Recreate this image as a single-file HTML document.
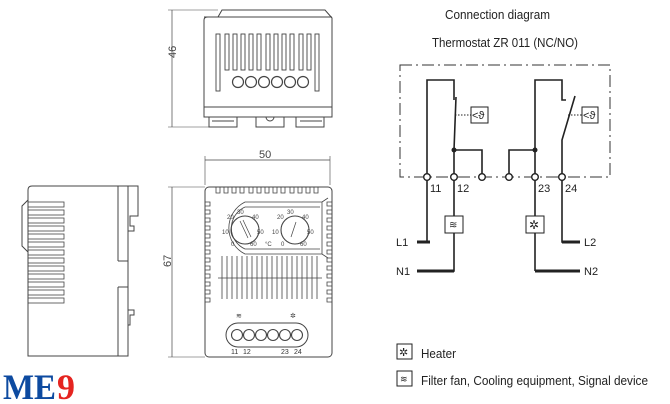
<!DOCTYPE html>
<html><head><meta charset="utf-8"><style>
html,body{margin:0;padding:0;background:#fff;}
svg{display:block;}
text{font-family:"Liberation Sans",sans-serif;}
</style></head><body>
<svg width="670" height="404" viewBox="0 0 670 404" xmlns="http://www.w3.org/2000/svg">
<g fill="none" stroke="#444" stroke-width="1">
<!-- TOP VIEW -->
<line x1="172" y1="10" x2="172" y2="127" stroke-width="0.7"/>
<line x1="168" y1="10" x2="218" y2="10" stroke-width="0.6"/>
<line x1="168" y1="127" x2="210" y2="127" stroke-width="0.6"/>
<path d="M204 20 Q204 17 208 17 L218 17 L222 10 L325 10 L332 18 L332 117 L204 117 Z"/>
<line x1="204" y1="107" x2="332" y2="107"/>
<line x1="204" y1="17" x2="332" y2="17"/>
<path d="M209 117 v10 h28 v-10 M212 121 h22 M256 117 v10 h28 v-10 M266 117 a4 4 0 0 0 8 0 M296 117 v10 h28 v-10 M300 121 h22"/>
<g stroke-width="0.9">
<rect x="216" y="34" width="4" height="57"/><rect x="225" y="34" width="4" height="36"/><rect x="233" y="34" width="4" height="36"/><rect x="241" y="34" width="4" height="36"/><rect x="249" y="34" width="4" height="36"/><rect x="257" y="34" width="4" height="36"/><rect x="266" y="34" width="4" height="36"/><rect x="274" y="34" width="4" height="36"/><rect x="282" y="34" width="4" height="36"/><rect x="290" y="34" width="4" height="36"/><rect x="299" y="34" width="4" height="36"/><rect x="307" y="34" width="4" height="36"/><rect x="315" y="34" width="4" height="57"/>
</g>
<g stroke-width="1.2"><circle cx="238" cy="82" r="5.5"/><circle cx="251" cy="82" r="5.5"/><circle cx="264" cy="82" r="5.5"/><circle cx="277" cy="82" r="5.5"/><circle cx="290" cy="82" r="5.5"/><circle cx="303" cy="82" r="5.5"/></g>

<!-- FRONT VIEW -->
<line x1="205" y1="160" x2="330" y2="160" stroke-width="0.7"/>
<line x1="205" y1="156" x2="205" y2="185" stroke-width="0.6"/>
<line x1="330" y1="156" x2="330" y2="185" stroke-width="0.6"/>
<line x1="172" y1="187" x2="172" y2="357" stroke-width="0.7"/>
<line x1="168" y1="187" x2="205" y2="187" stroke-width="0.6"/>
<line x1="168" y1="357" x2="205" y2="357" stroke-width="0.6"/>
<rect x="205" y="187" width="127" height="170" rx="4"/>
<g stroke-width="0.8">
<path d="M216 187v6h4v-6M224 187v6h4v-6M232 187v6h4v-6M240 187v6h4v-6M249 187v6h4v-6M257 187v6h4v-6M265 187v6h4v-6M273 187v6h4v-6M281 187v6h4v-6M290 187v6h4v-6M298 187v6h4v-6M306 187v6h4v-6M314 187v6h4v-6"/>
<path d="M205 202h5v4h-5M205 210h5v4h-5M205 218h5v4h-5M205 226h5v4h-5M205 234h5v4h-5M205 242h5v4h-5M205 250h5v4h-5M205 258h5v4h-5M205 266h5v4h-5M205 274h5v4h-5M205 282h5v4h-5M205 290h5v4h-5M205 298h5v4h-5"/>
<path d="M332 202h-5v4h5M332 210h-5v4h5M332 218h-5v4h5M332 226h-5v4h5M332 234h-5v4h5M332 242h-5v4h5M332 250h-5v4h5M332 258h-5v4h5M332 266h-5v4h5M332 274h-5v4h5M332 282h-5v4h5M332 290h-5v4h5M332 298h-5v4h5"/>
<path d="M322 202 L245 202 A29 29 0 0 0 245 254 L322 254 L328 258"/>
<path d="M322 202 L328 198"/>
<line x1="322" y1="202" x2="322" y2="254"/>
<path d="M245 207 A23 23 0 0 0 245 249 L320 249 M245 207 L320 207"/>
<path d="M222 256v43M227 256v43M232 256v43M237 256v43M242 256v43M247 256v43M252 256v43M257 256v43M262 256v43M267 256v43M272 256v43M277 256v43M282 256v43M287 256v43M292 256v43M297 256v43M302 256v43M307 256v43M312 256v43M317 256v43"/>
<line x1="218" y1="278" x2="322" y2="278"/>
</g>
<circle cx="245" cy="230" r="14" stroke-width="1.1"/>
<circle cx="295" cy="230" r="14" stroke-width="1.1"/>
<path d="M240 221 L248 238 M243 220 L251 237" stroke-width="0.7"/>
<path d="M296 222 L291 237" stroke-width="0.7"/>
<rect x="226" y="323" width="82" height="24" rx="12"/>
<g stroke-width="1.1"><circle cx="237" cy="335" r="5.5"/><circle cx="249" cy="335" r="5.5"/><circle cx="261" cy="335" r="5.5"/><circle cx="273" cy="335" r="5.5"/><circle cx="285" cy="335" r="5.5"/><circle cx="297" cy="335" r="5.5"/></g>

<!-- SIDE VIEW -->
<path d="M28 190 Q28 186 32 186 L128 186 L128 356 L28 356 Z"/>
<path d="M28 200 L22 206 L22 246 L28 252"/>
<line x1="118" y1="186" x2="118" y2="261"/><line x1="118" y1="261" x2="128" y2="261"/>
<line x1="118" y1="287" x2="118" y2="356"/><line x1="118" y1="287" x2="128" y2="287"/>
<path d="M128 186 h10 v30 h-8 v10 h4 v5 h-6 M128 310 h6 v5 h-4 v10 h-2"/>
<g stroke-width="0.8">
<rect x="28" y="202" width="36" height="5"/><rect x="28" y="210" width="36" height="5"/><rect x="28" y="218" width="36" height="5"/><rect x="28" y="226" width="36" height="5"/><rect x="28" y="234" width="36" height="5"/><rect x="28" y="242" width="36" height="5"/><rect x="28" y="250" width="36" height="5"/><rect x="28" y="258" width="36" height="5"/><rect x="28" y="266" width="36" height="5"/><rect x="28" y="274" width="36" height="5"/><rect x="28" y="282" width="36" height="5"/><rect x="28" y="290" width="36" height="5"/><rect x="28" y="298" width="36" height="5"/>
</g>
</g>
<g font-size="11" fill="#444">
<text x="176" y="68" transform="rotate(-90 171 63)">46</text>
<text x="259" y="158">50</text>
<text x="171" y="277" transform="rotate(-90 166 272)">67</text>
</g>
<g font-size="6" fill="#444">
<text x="237" y="214">30</text><text x="227" y="219">20</text><text x="252" y="219">40</text><text x="222" y="234">10</text><text x="257" y="234">50</text><text x="231" y="246">0</text><text x="250" y="246">60</text><text x="265" y="246">°C</text>
<text x="287" y="214">30</text><text x="277" y="219">20</text><text x="302" y="219">40</text><text x="272" y="234">10</text><text x="307" y="234">50</text><text x="281" y="246">0</text><text x="300" y="246">60</text>
</g>
<g font-size="7" fill="#333">
<text x="236" y="318">≋</text><text x="290" y="318">✲</text>
<text x="231" y="354">11</text><text x="243" y="354">12</text><text x="281" y="354">23</text><text x="294" y="354">24</text>
</g>

<!-- CONNECTION DIAGRAM -->
<text x="445" y="19" font-size="13" fill="#222" textLength="105" lengthAdjust="spacingAndGlyphs">Connection diagram</text>
<text x="432" y="47" font-size="13" fill="#222" textLength="146" lengthAdjust="spacingAndGlyphs">Thermostat ZR 011 (NC/NO)</text>
<rect x="400" y="65" width="210" height="112" fill="none" stroke="#333" stroke-width="1" stroke-dasharray="12,4,2,4"/>
<g fill="none" stroke="#222" stroke-width="1.6">
<path d="M427 177 V80 H454 V100"/>
<path d="M456 97 L454 150 V271 H417"/>
<path d="M427 177 V242 H417"/>
<path d="M454 150 H482 V177"/>
<path d="M509 177 V150 H535"/>
<path d="M535 271 V80 H562 V100 H566"/>
<path d="M575 96 L562 140 V242 H580"/>
<path d="M535 271 H580"/>
<line x1="417" y1="242" x2="430" y2="242" stroke-width="3"/>
<line x1="417" y1="271" x2="454" y2="271" stroke-width="3"/>
<line x1="562" y1="242" x2="580" y2="242" stroke-width="3"/>
<line x1="535" y1="271" x2="580" y2="271" stroke-width="3"/>
</g>
<path d="M455 115 H471 M568 115 H582" stroke="#222" stroke-dasharray="1.5,1.5" stroke-width="1"/>
<g fill="#222"><circle cx="454" cy="150" r="2.5"/><circle cx="535" cy="150" r="2.5"/></g>
<g fill="#fff" stroke="#222" stroke-width="1.4">
<circle cx="427" cy="177" r="3.3"/><circle cx="454" cy="177" r="3.3"/><circle cx="482" cy="177" r="3.3"/><circle cx="509" cy="177" r="3.3"/><circle cx="535" cy="177" r="3.3"/><circle cx="562" cy="177" r="3.3"/>
<rect x="471" y="107" width="17" height="16" stroke-width="1"/><rect x="582" y="107" width="16" height="16" stroke-width="1"/>
<rect x="445" y="216" width="18" height="17" stroke-width="1"/><rect x="526" y="216" width="18" height="17" stroke-width="1"/>
</g>
<g font-size="11" fill="#222">
<text x="472" y="119">&lt;ϑ</text><text x="583" y="119">&lt;ϑ</text>
<text x="449" y="228" font-size="10">≋</text><text x="529" y="229" font-size="12">✲</text>
<text x="430" y="192">11</text><text x="457" y="192">12</text><text x="538" y="192">23</text><text x="565" y="192">24</text>
<text x="396" y="246">L1</text><text x="396" y="275">N1</text><text x="584" y="246">L2</text><text x="584" y="275">N2</text>
</g>

<!-- LEGEND -->
<rect x="397" y="344" width="15" height="15" fill="none" stroke="#222"/>
<text x="399" y="356" font-size="11" fill="#222">✲</text>
<text x="421" y="358" font-size="13" fill="#222" textLength="35" lengthAdjust="spacingAndGlyphs">Heater</text>
<rect x="397" y="371" width="15" height="15" fill="none" stroke="#222"/>
<text x="400" y="382" font-size="9" fill="#222">≋</text>
<text x="421" y="385" font-size="13" fill="#222" textLength="227" lengthAdjust="spacingAndGlyphs">Filter fan, Cooling equipment, Signal device</text>

<!-- LOGO -->
<text x="3" y="399" style="font-family:'Liberation Serif',serif;font-weight:bold;fill:#0d4aa0" font-size="36" textLength="53" lengthAdjust="spacingAndGlyphs">ME</text>
<text x="57" y="399" style="font-family:'Liberation Serif',serif;font-weight:bold;fill:#e52420" font-size="36">9</text>
</svg>
</body></html>
